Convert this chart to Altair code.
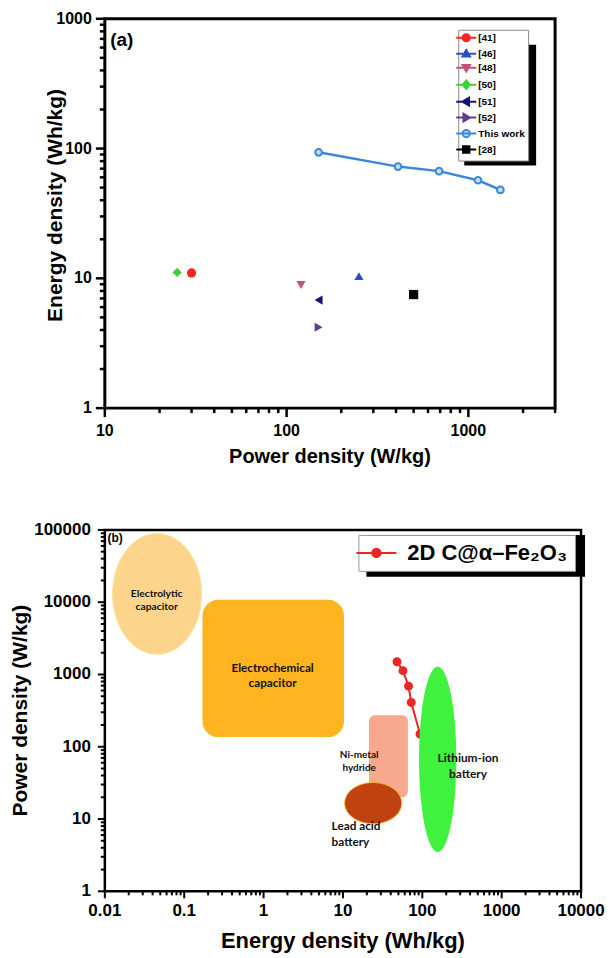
import altair as alt
import numpy as np
import pandas as pd

FONT = "Liberation Sans, Arial, Helvetica, DejaVu Sans, sans-serif"
LFONT = "Lato, Open Sans, sans-serif"

# ------------------------- Panel (a) data -------------------------
ref_series = ["[41]", "[46]", "[48]", "[50]", "[51]", "[52]", "[28]"]
ref_power = [30, 250, 120, 25, 150, 150, 500]
ref_energy = [11.0, 10.4, 8.9, 11.1, 6.8, 4.2, 7.5]

this_work_power = [150, 410, 690, 1130, 1500]
this_work_energy = [93.5, 72.6, 67.0, 57.0, 48.0]

legend_a_order = ["[41]", "[46]", "[48]", "[50]", "[51]", "[52]", "This work", "[28]"]
a_titles = ["Power density (W/kg)", "Energy density (Wh/kg)"]

# ------------------------- Panel (b) data -------------------------
ellipse_names = ["Electrolytic capacitor", "Lead acid battery", "Lithium-ion battery"]
ellipse_xmin = [0.0125, 10.5, 91]
ellipse_xmax = [0.166, 55, 268]
ellipse_ymin = [1900, 8.6, 3.5]
ellipse_ymax = [89000, 32, 1280]

rect_names = ["Electrochemical capacitor", "Ni-metal hydride"]
rect_xmin = [0.17, 21.3]
rect_xmax = [10.3, 65.8]
rect_ymin = [136, 20]
rect_ymax = [10800, 273]

region_text = ["Electrolytic\ncapacitor", "Electrochemical\ncapacitor", "Ni-metal\nhydride",
               "Lead acid\nbattery", "Lithium-ion\nbattery"]
region_text_x = [0.045, 1.3, 16, 7.2, 377]
region_text_y = [12900, 1233, 76, 7.9, 70]

legend_b_name = ["2D C@\u03b1\u2013Fe\u2082O\u2083"]
b_titles = ["Energy density (Wh/kg)", "Power density (W/kg)"]

# tick positions: decades (labelled) and minor 2..9
a_x_major = [10, 100, 1000]
a_x_minor = [m * 10 ** k for k in (1, 2, 3) for m in range(2, 10) if m * 10 ** k <= 3000]
a_y_major = [1, 10, 100, 1000]
a_y_minor = [m * 10 ** k for k in (0, 1, 2) for m in range(2, 10)]
b_x_major = [0.01, 0.1, 1, 10, 100, 1000, 10000]
b_x_minor = [round(m * 10.0 ** k, 6) for k in range(-2, 4) for m in range(2, 10)]
b_y_major = [1, 10, 100, 1000, 10000, 100000]
b_y_minor = [m * 10 ** k for k in range(0, 5) for m in range(2, 10)]

# ------------------------- styles -------------------------
WA, HA = 451, 390
WB, HB = 477, 362

ref_colors = ["#ff2222", "#2c4fbf", "#c4527a", "#3dcf3d", "#12127e", "#5e3f8f", "#000000"]
ref_shapes = ["circle", "triangle-up", "triangle-down", "diamond", "triangle-left", "triangle-right", "square"]
tw_color = "#3a88d8"
tw_fill = "#c8def5"

CIRCLE = "M-0.9,0A0.9,0.9,0,1,0,0.9,0A0.9,0.9,0,1,0,-0.9,0Z"
TRI_UP = "M0,-0.95L0.95,0.7L-0.95,0.7Z"
TRI_DOWN = "M0,0.95L0.95,-0.7L-0.95,-0.7Z"
DIAMOND = "M0,-1.05L0.9,0L0,1.05L-0.9,0Z"
TRI_LEFT = "M-0.95,0L0.7,-0.95L0.7,0.95Z"
TRI_RIGHT = "M0.95,0L-0.7,-0.95L-0.7,0.95Z"
SQUARE = "M-0.8,-0.8H0.8V0.8H-0.8Z"
LINE = "M-2.5,0L2.5,0"
legend_a_paths = [LINE + p for p in [CIRCLE, TRI_UP, TRI_DOWN, DIAMOND, TRI_LEFT, TRI_RIGHT, CIRCLE, SQUARE]]
legend_a_stroke = ["#ff2222", "#2c4fbf", "#c4527a", "#3dcf3d", "#12127e", "#5e3f8f", tw_color, "#000000"]
legend_a_fill = ["#ff2222", "#2c4fbf", "#c4527a", "#3dcf3d", "#12127e", "#5e3f8f", tw_fill, "#000000"]
legend_b_path = ["M-2,0L2,0M-0.42,0A0.42,0.42,0,1,0,0.42,0A0.42,0.42,0,1,0,-0.42,0Z"]


def frame_layers(X, Y, W, H, xmaj, xmin_, ymaj, ymin_, Lmaj, Lmin, tick_w,
                 lab_size, xlab_dy, ylab_dx, titles, xt_size, xt_dy, yt_size, yt_dx, yt_dy):
    """Ticks, tick labels and axis titles drawn through the panel's log scales."""
    out = []
    for vals, L in ((xmaj, Lmaj), (xmin_, Lmin)):
        out.append(alt.Chart(pd.DataFrame({"v": vals})).mark_rule(color="black", strokeWidth=tick_w).encode(
            x=X("v"), y=alt.value(H), y2=alt.value(H + L)))
    for vals, L in ((ymaj, Lmaj), (ymin_, Lmin)):
        out.append(alt.Chart(pd.DataFrame({"v": vals})).mark_rule(color="black", strokeWidth=tick_w).encode(
            y=Y("v"), x=alt.value(0), x2=alt.value(-L)))
    out.append(alt.Chart(pd.DataFrame({"v": xmaj})).mark_text(
        font=FONT, fontSize=lab_size, fontWeight="bold", color="black", align="center", baseline="middle"
    ).encode(x=X("v"), y=alt.value(H + xlab_dy), text=alt.Text("v:Q", format="~g")))
    out.append(alt.Chart(pd.DataFrame({"v": ymaj})).mark_text(
        font=FONT, fontSize=lab_size, fontWeight="bold", color="black", align="right", baseline="middle"
    ).encode(y=Y("v"), x=alt.value(-ylab_dx), text=alt.Text("v:Q", format="~g")))
    out.append(alt.Chart(pd.DataFrame({"t": [titles[0]]})).mark_text(
        font=FONT, fontSize=xt_size, fontWeight="bold", color="black", align="center", baseline="middle"
    ).encode(x=alt.value(W / 2), y=alt.value(H + xt_dy), text="t:N"))
    out.append(alt.Chart(pd.DataFrame({"t": [titles[1]]})).mark_text(
        font=FONT, fontSize=yt_size, fontWeight="bold", color="black", align="center", baseline="middle",
        angle=270
    ).encode(x=alt.value(yt_dx), y=alt.value(H / 2 + yt_dy), text="t:N"))
    return out


# ------------------------- Panel (a) -------------------------
xa_scale = alt.Scale(type="log", domain=[10, 3000], nice=False)
ya_scale = alt.Scale(type="log", domain=[1, 1000], nice=False)


def XA(f):
    return alt.X(f, type="quantitative", scale=xa_scale, axis=None)


def YA(f):
    return alt.Y(f, type="quantitative", scale=ya_scale, axis=None)


frame_a = frame_layers(XA, YA, WA, HA, a_x_major, a_x_minor, a_y_major, a_y_minor, 9, 5, 2.5,
                       16, 23, 13, a_titles, 20, 49, 21, -49, -8)

leg_a = alt.Legend(orient="none", legendX=354, legendY=11, title=None,
                   labelFont=FONT, labelFontSize=10, labelFontWeight="bold", labelColor="black",
                   symbolSize=64, symbolStrokeWidth=2, labelOffset=7, rowPadding=0,
                   padding=3, strokeColor="#888888", fillColor="white")

legend_a_df = pd.DataFrame({"series": legend_a_order})
legend_a_layer = alt.Chart(legend_a_df).transform_filter("false").mark_point(
    filled=True, opacity=1, strokeWidth=2).encode(
    fill=alt.Fill("series:N", scale=alt.Scale(domain=legend_a_order, range=legend_a_fill), legend=leg_a),
    stroke=alt.Stroke("series:N", scale=alt.Scale(domain=legend_a_order, range=legend_a_stroke), legend=leg_a),
    shape=alt.Shape("series:N", scale=alt.Scale(domain=legend_a_order, range=legend_a_paths), legend=leg_a),
)

shadow_a = alt.Chart(pd.DataFrame({"k": [0]})).mark_rect(color="black").encode(
    x=alt.value(360), x2=alt.value(432), y=alt.value(26), y2=alt.value(147))

tw_df = pd.DataFrame({"power": this_work_power, "energy": this_work_energy})
tw_line = alt.Chart(tw_df).mark_line(color=tw_color, strokeWidth=2.5).encode(x=XA("power"), y=YA("energy"))
tw_pts = alt.Chart(tw_df).mark_point(shape="circle", filled=True, fill=tw_fill, stroke=tw_color,
                                     strokeWidth=2, size=45, opacity=1).encode(x=XA("power"), y=YA("energy"))

ref_layers = []
for name, pw, en, col, shp in zip(ref_series, ref_power, ref_energy, ref_colors, ref_shapes):
    d = pd.DataFrame({"power": [pw], "energy": [en], "series": [name]})
    ref_layers.append(alt.Chart(d).mark_point(shape=shp, filled=True, color=col, size=85, opacity=1)
                      .encode(x=XA("power"), y=YA("energy")))

tag_a = alt.Chart(pd.DataFrame({"x": [12.4], "y": [685], "t": ["(a)"]})).mark_text(
    font=FONT, fontSize=19, fontWeight="bold", color="black").encode(x=XA("x"), y=YA("y"), text="t:N")

panel_a = alt.layer(tw_line, tw_pts, *ref_layers, tag_a, *frame_a, shadow_a, legend_a_layer).properties(
    width=WA, height=HA, view=alt.ViewBackground(stroke="black", strokeWidth=3))

# ------------------------- Panel (b) -------------------------
xb_scale = alt.Scale(type="log", domain=[0.01, 10000], nice=False)
yb_scale = alt.Scale(type="log", domain=[1, 100000], nice=False)


def XB(f):
    return alt.X(f, type="quantitative", scale=xb_scale, axis=None)


def YB(f):
    return alt.Y(f, type="quantitative", scale=yb_scale, axis=None)


frame_b = frame_layers(XB, YB, WB, HB, b_x_major, b_x_minor, b_y_major, b_y_minor, 7, 4, 2,
                       17, 20, 14, b_titles, 22, 50, 21, -84, 0)


def ellipse_frame(xmin, xmax, ymin, ymax, n=121):
    lx0, lx1 = np.log10(xmin), np.log10(xmax)
    ly0, ly1 = np.log10(ymin), np.log10(ymax)
    cx, rx = (lx0 + lx1) / 2, (lx1 - lx0) / 2
    cy, ry = (ly0 + ly1) / 2, (ly1 - ly0) / 2
    t = np.linspace(0, np.pi, n)
    return pd.DataFrame({"x": 10 ** (cx + rx * np.cos(t)),
                         "ylo": 10 ** (cy - ry * np.sin(t)),
                         "yhi": 10 ** (cy + ry * np.sin(t))})


ellipse_style = [dict(color="#fdd48c", stroke="#ffe49a", strokeWidth=1),
                 dict(color="#c04210", stroke="#f2c230", strokeWidth=1),
                 dict(color="#3ef23e")]
ellipse_layers = []
for i in range(3):
    d = ellipse_frame(ellipse_xmin[i], ellipse_xmax[i], ellipse_ymin[i], ellipse_ymax[i])
    ellipse_layers.append(alt.Chart(d).mark_area(opacity=1, orient="vertical", **ellipse_style[i])
                          .encode(x=XB("x"), y=YB("ylo"), y2=alt.Y2("yhi")))

rect_style = [dict(color="#fdb41e", cornerRadius=16), dict(color="#f8a88c", cornerRadius=6)]
rect_layers = []
for i in range(2):
    d = pd.DataFrame({"x0": [rect_xmin[i]], "x1": [rect_xmax[i]], "y0": [rect_ymin[i]], "y1": [rect_ymax[i]]})
    rect_layers.append(alt.Chart(d).mark_rect(opacity=1, **rect_style[i])
                       .encode(x=XB("x0"), x2=alt.X2("x1"), y=YB("y0"), y2=alt.Y2("y1")))

fe_df = pd.DataFrame({"energy": this_work_energy, "power": this_work_power})
fe_line = alt.Chart(fe_df).mark_line(color="#ee2424", strokeWidth=2).encode(x=XB("energy"), y=YB("power"))
fe_pts = alt.Chart(fe_df).mark_point(shape="circle", filled=True, color="#ee2424", size=80, opacity=1).encode(
    x=XB("energy"), y=YB("power"))

text_style = [dict(fontSize=10.3, lineHeight=13.3, align="center"),
              dict(fontSize=11.7, lineHeight=15.6, align="center"),
              dict(fontSize=10, lineHeight=13, align="center"),
              dict(fontSize=11.8, lineHeight=15.4, align="left"),
              dict(fontSize=11.9, lineHeight=15.7, align="center")]
text_layers = []
for i in range(5):
    d = pd.DataFrame({"x": [region_text_x[i]], "y": [region_text_y[i]], "t": [region_text[i]]})
    text_layers.append(alt.Chart(d).mark_text(font=LFONT, fontWeight="bold", color="#111111",
                                              baseline="middle", lineBreak="\n", **text_style[i])
                       .encode(x=XB("x"), y=YB("y"), text="t:N"))

tag_b = alt.Chart(pd.DataFrame({"x": [0.0108], "y": [76700], "t": ["(b)"]})).mark_text(
    font=FONT, fontSize=12, fontWeight="bold", color="black", align="left").encode(
    x=XB("x"), y=YB("y"), text="t:N")

leg_b = alt.Legend(orient="none", legendX=254, legendY=5, title=None,
                   labelFont=FONT, labelFontSize=22, labelFontWeight="bold", labelColor="black",
                   labelLimit=400, symbolSize=400, symbolStrokeWidth=2, labelOffset=20, padding=7,
                   strokeColor="#999999", fillColor="white")
legend_b_layer = alt.Chart(pd.DataFrame({"series": legend_b_name})).transform_filter("false").mark_point(
    filled=True, opacity=1, strokeWidth=2).encode(
    fill=alt.Fill("series:N", scale=alt.Scale(domain=legend_b_name, range=["#ee2424"]), legend=leg_b),
    stroke=alt.Stroke("series:N", scale=alt.Scale(domain=legend_b_name, range=["#ee2424"]), legend=leg_b),
    shape=alt.Shape("series:N", scale=alt.Scale(domain=legend_b_name, range=legend_b_path), legend=leg_b),
)
shadow_b = alt.Chart(pd.DataFrame({"k": [0]})).mark_rect(color="black").encode(
    x=alt.value(262), x2=alt.value(481), y=alt.value(5), y2=alt.value(47))

panel_b = alt.layer(ellipse_layers[0], rect_layers[0], rect_layers[1], ellipse_layers[1],
                    fe_line, fe_pts, ellipse_layers[2], *text_layers, tag_b,
                    *frame_b, shadow_b, legend_b_layer).properties(
    width=WB, height=HB, view=alt.ViewBackground(stroke="black", strokeWidth=2.5))

chart = alt.vconcat(panel_a, panel_b, spacing=50).resolve_scale(
    fill="independent", stroke="independent", shape="independent"
).properties(
    padding={"left": 0, "top": 0, "right": 0, "bottom": 0}
).configure(background="white", font=FONT)

chart.save("out.html", embed_options={"renderer": "svg", "actions": False})
